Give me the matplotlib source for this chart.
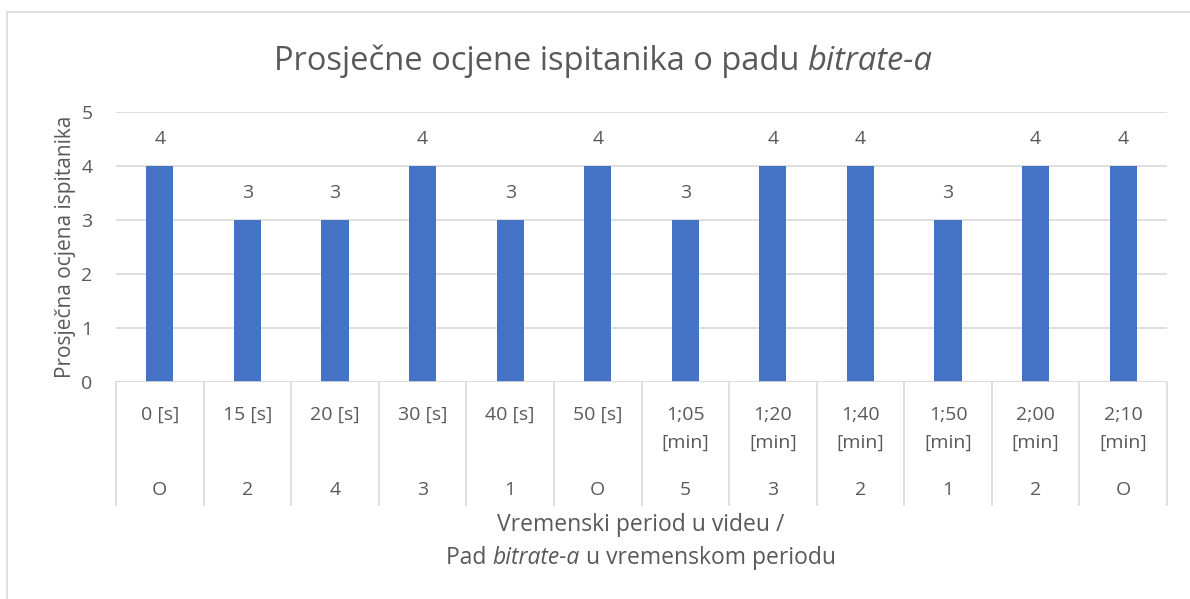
import matplotlib
matplotlib.use("Agg")
import matplotlib.pyplot as plt
from matplotlib.patches import Rectangle

# podaci
periods = ["0 [s]", "15 [s]", "20 [s]", "30 [s]", "40 [s]", "50 [s]",
           "1;05\n[min]", "1;20\n[min]", "1;40\n[min]", "1;50\n[min]",
           "2;00\n[min]", "2;10\n[min]"]
drops = ["O", "2", "4", "3", "1", "O", "5", "3", "2", "1", "2", "O"]
scores = [4, 3, 3, 4, 3, 4, 3, 4, 4, 3, 4, 4]
y_ticks = [0, 1, 2, 3, 4, 5]

TXT = "#595959"
GRID = "#d9d9d9"
BAR = "#4472C4"
FONT = "Open Sans"

plt.rcParams['font.family'] = [FONT, 'DejaVu Sans']

W, H = 1190, 599
fig = plt.figure(figsize=(W / 100, H / 100), dpi=100)

# okvir grafikona
fig.patches.append(Rectangle((7 / W, -0.1), 1.2, (H - 12) / H + 0.1,
                             transform=fig.transFigure, fill=False,
                             edgecolor=GRID, linewidth=1.2))

left, right, top, bottom = 116, 1167, 112, 382
ax = fig.add_axes([left / W, (H - bottom) / H, (right - left) / W, (bottom - top) / H])
x = list(range(len(scores)))
ax.bar(x, scores, width=0.31, color=BAR, zorder=3)
ax.set_xlim(-0.5, len(scores) - 0.5)
ax.set_ylim(0, 5)
ax.set_yticks(y_ticks)
ax.tick_params(axis='y', length=0, pad=17, labelsize=14, labelcolor=TXT)
ax.set_xticks([])
for s in ax.spines.values():
    s.set_visible(False)
ax.grid(axis='y', color=GRID, linewidth=1.2, zorder=0)
ax.axhline(0, color=GRID, linewidth=1.2, zorder=4)

# oznake podataka
for i, v in enumerate(scores):
    ax.annotate(str(v), (i, v), xytext=(0, 13), textcoords='offset points',
                ha='center', va='bottom', fontsize=14, color=TXT)

# višerazinska os kategorija
tr = ax.get_xaxis_transform()
ah = bottom - top
for i in range(len(scores) + 1):
    ax.plot([i - 0.5, i - 0.5], [0, -123 / ah], transform=tr, color=GRID,
            linewidth=1.2, clip_on=False)
for i, (p, d) in enumerate(zip(periods, drops)):
    for k, line in enumerate(p.split("\n")):
        ax.text(i, -(33 + 28 * k) / ah, line, transform=tr, ha='center',
                va='center', fontsize=14, color=TXT)
    ax.text(i, -108 / ah, d, transform=tr, ha='center', va='center',
            fontsize=14, color=TXT)

ax.set_ylabel("Prosječna ocjena ispitanika", fontsize=15, color=TXT)
ax.yaxis.set_label_coords((76 - left) / (right - left), 0.5)


def mixed_text(xc, yc, parts, size):
    # crta tekst iz dijelova (normalno/kurziv) centriran na (xc, yc) u pikselima
    renderer = fig.canvas.get_renderer()
    items = []
    for s, style in parts:
        t = fig.text(0, 0, s, fontsize=size, style=style, color=TXT,
                     ha='left', va='center')
        items.append(t)
    widths = [t.get_window_extent(renderer).width for t in items]
    x0 = xc - sum(widths) / 2
    for t, w in zip(items, widths):
        t.set_position((x0 / W, (H - yc) / H))
        x0 += w


mixed_text(603, 61, [("Prosječne ocjene ispitanika o padu ", "normal"),
                     ("bitrate-a", "italic")], 23.5)
mixed_text(641, 525, [("Vremenski period u videu /", "normal")], 16.5)
mixed_text(641, 558, [("Pad ", "normal"), ("bitrate-a", "italic"),
                      (" u vremenskom periodu", "normal")], 16.5)

fig.savefig("out.png", dpi=100)
